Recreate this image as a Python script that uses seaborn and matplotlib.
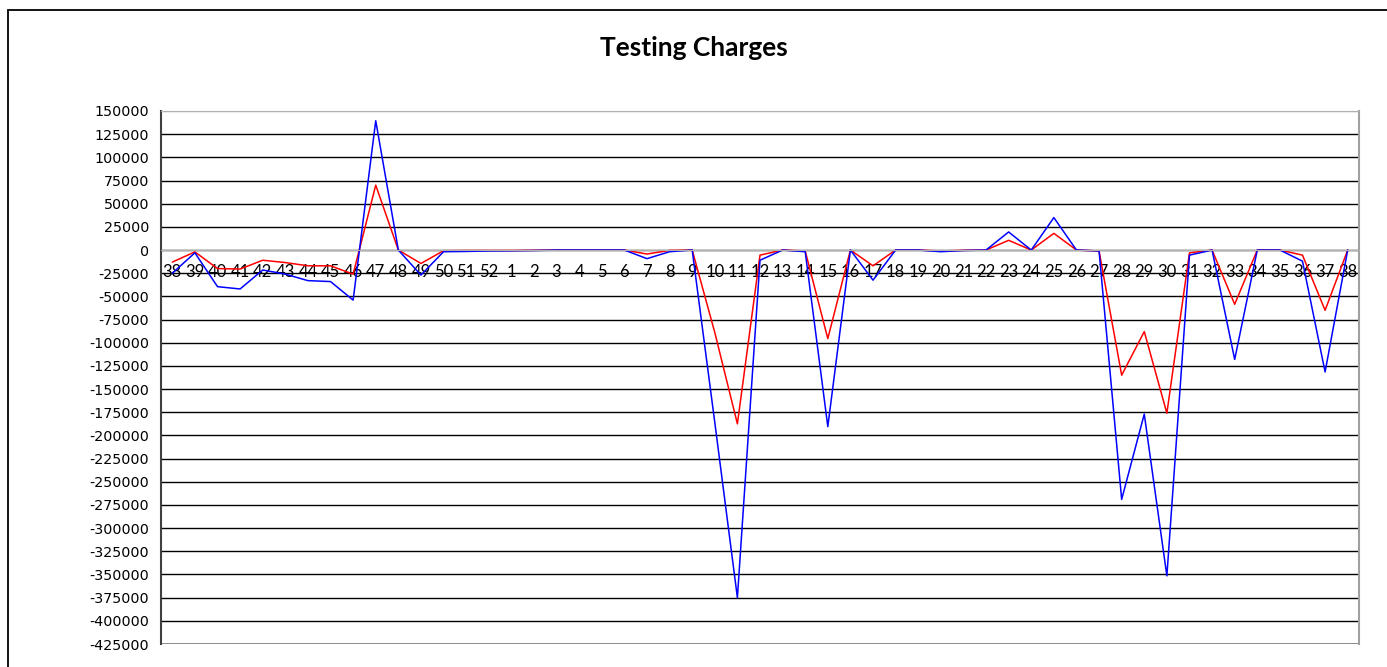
import numpy as np
import pandas as pd
import seaborn as sns
import matplotlib.pyplot as plt
from matplotlib.patches import Rectangle

# week labels along the x axis
weeks = ['38', '39', '40', '41', '42', '43', '44', '45', '46', '47', '48', '49', '50', '51', '52',
         '1', '2', '3', '4', '5', '6', '7', '8', '9', '10', '11', '12', '13', '14', '15', '16',
         '17', '18', '19', '20', '21', '22', '23', '24', '25', '26', '27', '28', '29', '30', '31',
         '32', '33', '34', '35', '36', '37', '38']

# red series
red_vals = [-13000, -2000, -20000, -20500, -11000, -13500, -17000, -17000, -26000, 70000,
            0, -14500, -700, -500, -500, -500, -300, 0, 0, 0, 0, -4300, -400, 0,
            -89000, -187500, -5500, 0, -1000, -95500, 0, -17000, 0, 0, -1000, -300, 0,
            10500, 0, 18000, 0, -1000, -135000, -88000, -176000, -3000, 0, -58500, 0, 0,
            -5500, -65000, 0]

# blue series
blue_vals = [-25000, -3000, -39500, -42000, -21500, -26000, -33000, -34000, -54000, 139500,
             0, -27000, -1800, -1500, -1000, -800, -500, 0, 0, 0, 0, -9300, -1800, 0,
             -186000, -375000, -11000, 0, -1800, -190500, 0, -32500, 0, 0, -1800, -500, 0,
             19500, 0, 35000, 0, -1000, -269000, -177000, -351500, -5500, 0, -118000, 0, 0,
             -12000, -131500, 0]

df = pd.DataFrame({
    'pos': list(range(len(weeks))) * 2,
    'value': red_vals + blue_vals,
    'series': ['red'] * len(weeks) + ['blue'] * len(weeks),
})

sns.set_style('white')
plt.rcParams['font.family'] = ['DejaVu Sans']
plt.rcParams['text.color'] = 'black'
plt.rcParams['xtick.labelcolor'] = 'black'
plt.rcParams['ytick.labelcolor'] = 'black'

fig = plt.figure(figsize=(13.87, 6.67), dpi=100)
ax = fig.add_axes([161 / 1387, 23 / 667, 1198 / 1387, 533 / 667])

sns.lineplot(data=df, x='pos', y='value', hue='series', palette=['#ff0000', '#0000ff'],
             legend=False, linewidth=1.1, ax=ax)

ax.set_xlim(-0.5, len(weeks) - 0.5)
ax.set_ylim(-425000, 150000)
ax.set_yticks(np.arange(-425000, 150001, 25000))
ax.set_yticklabels([str(v) for v in range(-425000, 150001, 25000)], fontsize=10.3)
ax.yaxis.grid(True, color='black', linewidth=1)
ax.set_axisbelow(True)

# bottom edge darker grey, top edge light grey like the plot frame
grid = ax.get_ygridlines()
grid[0].set_color('#808080')
grid[0].set_linewidth(2)
grid[-1].set_color('#b0b0b0')

# category axis crosses at zero
ax.spines['bottom'].set_position(('data', 0))
ax.spines['bottom'].set_color('#b0b0b0')
ax.spines['top'].set_color('#b0b0b0')
ax.spines['right'].set_color('#a0a0a0')
ax.spines['right'].set_linewidth(1.5)
ax.spines['left'].set_color('#404040')
ax.spines['left'].set_linewidth(1.5)
ax.set_xticks(range(len(weeks)))
ax.set_xticklabels(weeks, fontsize=12, family='Lato', color='black')
ax.set_xticks(np.arange(-0.5, len(weeks)), minor=True)
ax.tick_params(axis='x', which='major', length=0, pad=10)
ax.tick_params(axis='x', which='minor', length=5, color='#b0b0b0', direction='out')
ax.tick_params(axis='y', length=4.5, color='#404040', direction='out', pad=4)
ax.set_xlabel('')
ax.set_ylabel('')

fig.text(694 / 1387, 1 - 48 / 667, 'Testing Charges', ha='center', va='center',
         fontsize=19, fontweight='bold', family='Lato', color='black')
fig.patches.append(Rectangle((7.5 / 1387, -0.05), 1.1, 1.05 - 10 / 667,
                             transform=fig.transFigure, fill=False, edgecolor='black', linewidth=1.3))

plt.savefig('out.png', dpi=100)
